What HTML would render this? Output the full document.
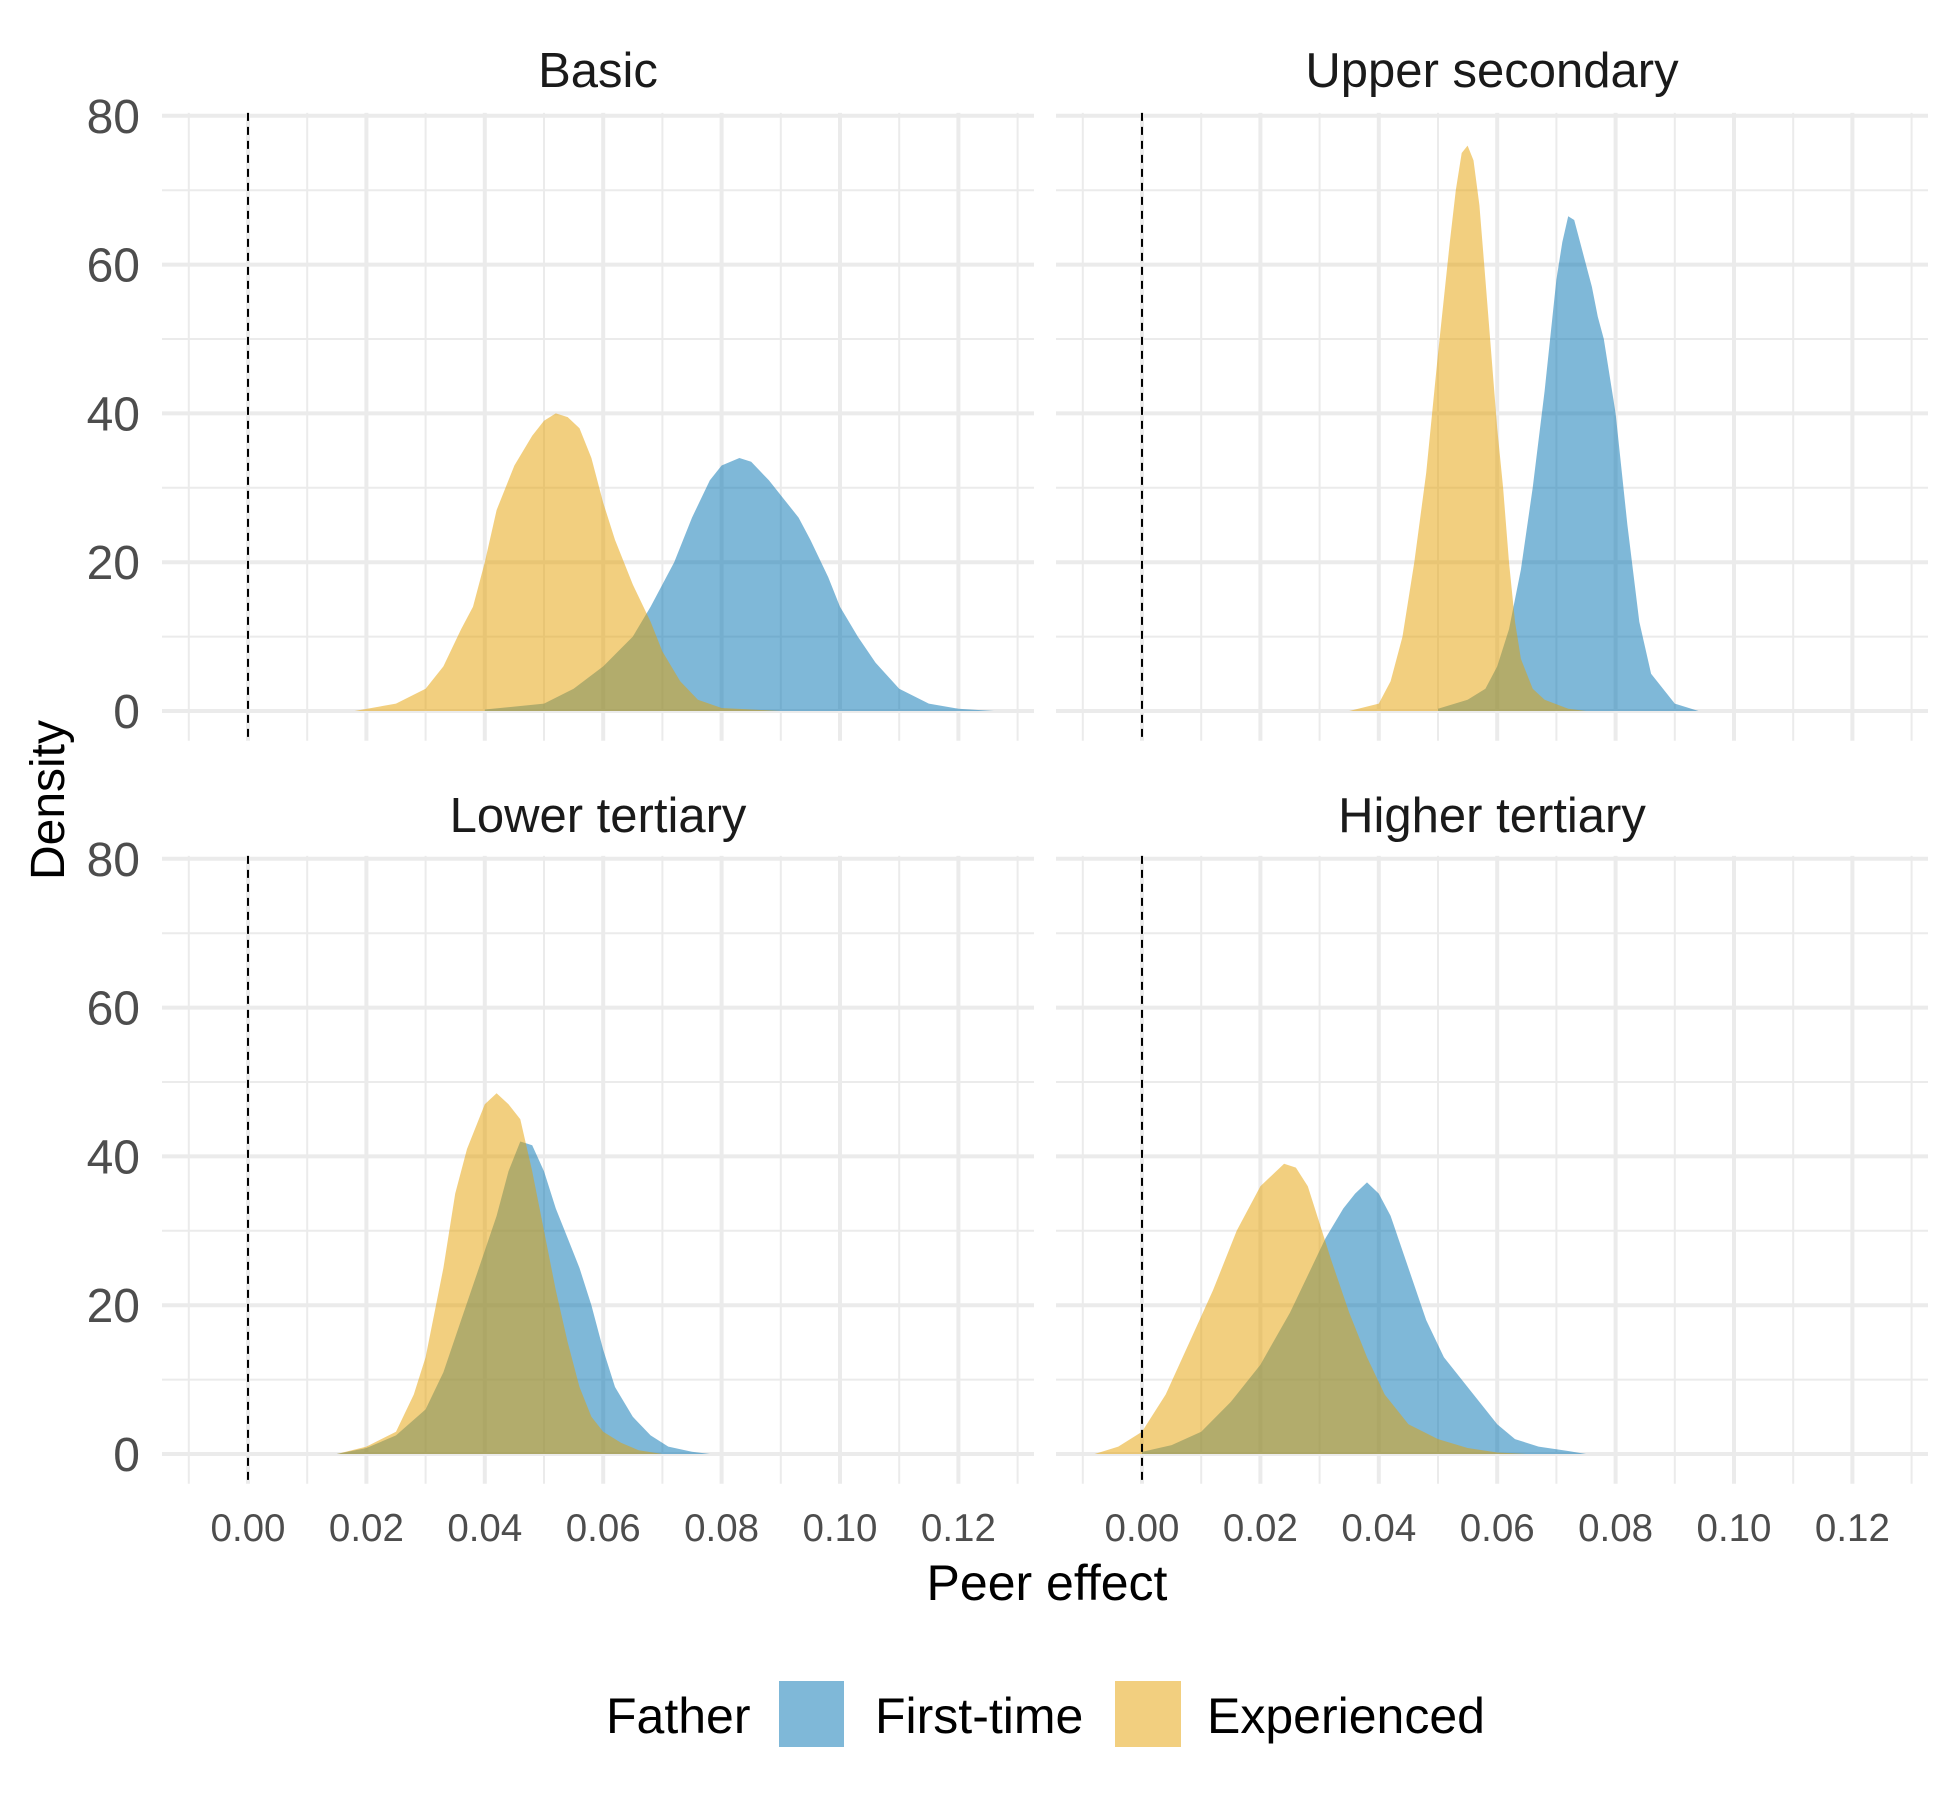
<!DOCTYPE html>
<html><head><meta charset="utf-8"><style>
html,body{margin:0;padding:0;background:#fff;}
svg{display:block;font-family:"Liberation Sans",Arial,sans-serif;}
</style></head><body>
<svg id="chart" width="1950" height="1800" viewBox="0 0 1950 1800" xmlns="http://www.w3.org/2000/svg">
<g id="panels"></g>
<text x="1047" y="1600" font-size="50" text-anchor="middle" fill="#000">Peer effect</text>
<text transform="translate(64,800) rotate(-90)" font-size="48" text-anchor="middle" fill="#000">Density</text>
<g>
<text x="606" y="1733" font-size="50" fill="#000">Father</text>
<rect x="779" y="1681" width="65" height="66" fill="#0072B2" fill-opacity="0.5"/>
<text x="875" y="1733" font-size="50" fill="#000">First-time</text>
<rect x="1115" y="1681" width="66" height="66" fill="#E69F00" fill-opacity="0.5"/>
<text x="1207" y="1733" font-size="50" fill="#000">Experienced</text>
</g>
</svg>
<script>
const panelTitles = ["Basic","Upper secondary","Lower tertiary","Higher tertiary"];
const xTicks = [0,0.02,0.04,0.06,0.08,0.10,0.12];
const xTickLabels = ["0.00","0.02","0.04","0.06","0.08","0.10","0.12"];
const yTicks = [0,20,40,60,80];
const yTickLabels = ["0","20","40","60","80"];

const basicFirstX = [0.040,0.050,0.055,0.060,0.065,0.068,0.070,0.072,0.075,0.078,0.080,0.083,0.085,0.088,0.090,0.093,0.095,0.098,0.100,0.103,0.106,0.110,0.115,0.120,0.126];
const basicFirstY = [0.2,1,3,6,10,14,17,20,26,31,33,34,33.5,31,29,26,23,18,14,10,6.5,3,1,0.3,0];
const basicExpX = [0.018,0.025,0.030,0.033,0.036,0.038,0.040,0.042,0.045,0.048,0.050,0.052,0.054,0.056,0.058,0.060,0.062,0.065,0.068,0.070,0.073,0.076,0.080,0.090];
const basicExpY = [0,1,3,6,11,14,20,27,33,37,39,40,39.5,38,34,28,23,17,12,8,4,1.5,0.4,0];

const upperFirstX = [0.050,0.055,0.058,0.060,0.062,0.064,0.066,0.068,0.070,0.071,0.072,0.073,0.074,0.075,0.076,0.077,0.078,0.080,0.082,0.084,0.086,0.088,0.090,0.094];
const upperFirstY = [0.3,1.5,3,6,11,19,30,43,58,63,66.5,66,63,60,57,53,50,40,25,12,5,3,1,0];
const upperExpX = [0.035,0.040,0.042,0.044,0.046,0.048,0.050,0.052,0.053,0.054,0.055,0.056,0.057,0.058,0.059,0.060,0.061,0.062,0.063,0.064,0.066,0.068,0.072,0.075];
const upperExpY = [0,1,4,10,20,32,48,63,70,75,76,74,68,58,48,38,30,20,12,7,3,1.5,0.3,0];

const lowerFirstX = [0.015,0.020,0.025,0.030,0.033,0.036,0.039,0.042,0.044,0.046,0.048,0.050,0.052,0.054,0.056,0.058,0.060,0.062,0.065,0.068,0.071,0.075,0.078];
const lowerFirstY = [0,0.8,2.5,6,11,18,25,32,38,42,41.5,38,33,29,25,20,14,9,5,2.5,1,0.3,0];
const lowerExpX = [0.015,0.020,0.025,0.028,0.030,0.033,0.035,0.037,0.040,0.042,0.044,0.046,0.048,0.050,0.052,0.054,0.056,0.058,0.060,0.063,0.066,0.070];
const lowerExpY = [0,1,3,8,13,25,35,41,47,48.5,47,45,38,30,22,15,9,5,3,1.5,0.5,0];

const higherFirstX = [0.000,0.005,0.010,0.015,0.020,0.025,0.028,0.031,0.034,0.036,0.038,0.040,0.042,0.045,0.048,0.051,0.054,0.057,0.060,0.063,0.067,0.072,0.075];
const higherFirstY = [0.3,1.2,3,7,12,19,24,29,33,35,36.5,35,32,25,18,13,10,7,4,2,1,0.4,0];
const higherExpX = [-0.008,-0.004,0.000,0.004,0.008,0.012,0.016,0.020,0.024,0.026,0.028,0.030,0.032,0.035,0.038,0.041,0.045,0.050,0.055,0.060,0.065];
const higherExpY = [0,1,3,8,15,22,30,36,39,38.5,36,31,26,19,13,8,4,2,0.8,0.2,0];

const firstXs = [basicFirstX,upperFirstX,lowerFirstX,higherFirstX];
const firstYs = [basicFirstY,upperFirstY,lowerFirstY,higherFirstY];
const expXs = [basicExpX,upperExpX,lowerExpX,higherExpX];
const expYs = [basicExpY,upperExpY,lowerExpY,higherExpY];

const NS="http://www.w3.org/2000/svg";
const root=document.getElementById('panels');
const PXU=5920, PYU=7.44;
const panelLeft=[162,1056], panelW=872;
const zeroX=[248,1142];
const zeroY=[711,1454];
function mk(tag,attrs,parent){const e=document.createElementNS(NS,tag);for(const k in attrs)e.setAttribute(k,attrs[k]);parent.appendChild(e);return e;}

for(let p=0;p<4;p++){
  const col=p%2,row=Math.floor(p/2);
  const x0=zeroX[col],y0=zeroY[row],L=panelLeft[col],R=L+panelW;
  const top=y0-80.4*PYU, bot=y0+4*PYU;
  const sx=v=>x0+v*PXU, sy=v=>y0-v*PYU;
  const g=mk('g',{},root);
  
  
  for(let v=-0.01;v<=0.131;v+=0.02){const l=mk('line',{x1:sx(v),x2:sx(v),y1:top,y2:bot,stroke:'#ebebeb','stroke-width':2},g);
    
    }
  for(let v=10;v<80;v+=20){const l=mk('line',{x1:L,x2:R,y1:sy(v),y2:sy(v),stroke:'#ebebeb','stroke-width':2},g);
    
    }
  xTicks.forEach(v=>{const l=mk('line',{x1:sx(v),x2:sx(v),y1:top,y2:bot,stroke:'#ebebeb','stroke-width':4},g);
    
    });
  yTicks.forEach(v=>{const l=mk('line',{x1:L,x2:R,y1:sy(v),y2:sy(v),stroke:'#ebebeb','stroke-width':4},g);
    
    });
  [[firstXs,firstYs,'#0072B2','first-time'],[expXs,expYs,'#E69F00','experienced']].forEach(s=>{
    const xs=s[0][p],ys=s[1][p];
    let d='M'+sx(xs[0])+','+sy(0);
    for(let i=0;i<xs.length;i++)d+=' L'+sx(xs[i]).toFixed(1)+','+sy(ys[i]).toFixed(1);
    d+=' L'+sx(xs[xs.length-1])+','+sy(0)+' Z';
    const a=mk('path',{d:d,fill:s[2],'fill-opacity':0.5},g);
    
    
  });
  const z=mk('line',{x1:x0,x2:x0,y1:top,y2:bot,stroke:'#000','stroke-width':2,'stroke-dasharray':'8,6'},g);
  
  
  const t=mk('text',{x:(L+R)/2,y:row?832:87,'font-size':49,'text-anchor':'middle',fill:'#1a1a1a'},g);
  t.textContent=panelTitles[p];
  
  
  if(col===0){yTicks.forEach((v,i)=>{const tt=mk('text',{x:140,y:sy(v)+17,'font-size':48,'text-anchor':'end',fill:'#4d4d4d'},g);
    tt.textContent=yTickLabels[i];
    
    });}
  if(row===1){xTicks.forEach((v,i)=>{const tt=mk('text',{x:sx(v),y:1541,'font-size':38.5,'text-anchor':'middle',fill:'#4d4d4d'},g);
    tt.textContent=xTickLabels[i];
    
    });}
}
</script>
</body></html>
